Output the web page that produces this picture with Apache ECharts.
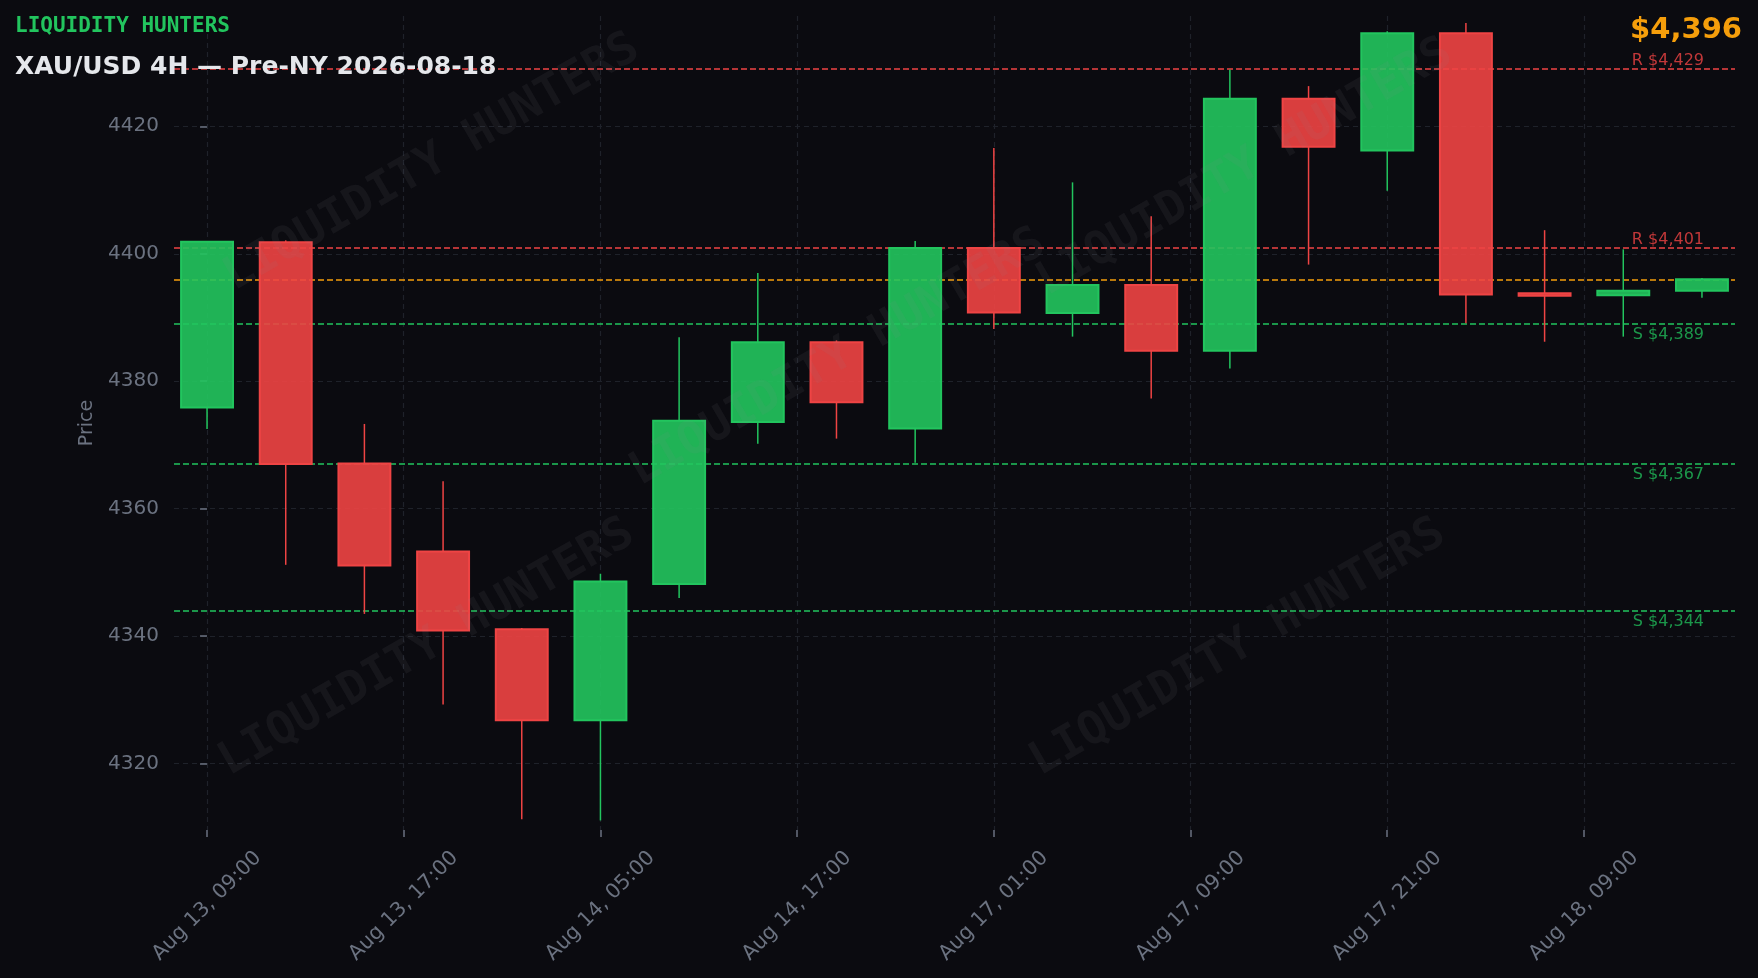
<!DOCTYPE html>
<html>
<head>
<meta charset="utf-8">
<script src="https://cdn.jsdelivr.net/npm/echarts@6/dist/echarts.min.js"></script>
<style>
  html, body { margin: 0; padding: 0; background: #0b0b10; }
  #chart { width: 1758px; height: 978px; }
</style>
</head>
<body>
<div id="chart"></div>
<script>
// ---- data ----
const times = [
  'Aug 13, 09:00','Aug 13, 13:00','Aug 13, 17:00','Aug 13, 21:00',
  'Aug 14, 01:00','Aug 14, 05:00','Aug 14, 09:00','Aug 14, 13:00',
  'Aug 14, 17:00','Aug 14, 21:00','Aug 17, 01:00','Aug 17, 05:00',
  'Aug 17, 09:00','Aug 17, 13:00','Aug 17, 17:00','Aug 17, 21:00',
  'Aug 18, 01:00','Aug 18, 05:00','Aug 18, 09:00','Aug 18, 13:00'
];
const opens  = [4375.9,4401.8,4367.1,4353.3,4341.1,4326.8,4348.2,4373.6,4386.1,4372.6,4400.9,4390.7,4395.1,4384.8,4424.3,4416.2,4434.6,4393.8,4393.5,4394.2];
const highs  = [4402.0,4402.1,4373.3,4364.3,4341.3,4349.8,4386.9,4397.0,4386.4,4402.0,4416.6,4411.2,4405.9,4428.9,4426.3,4434.9,4436.2,4403.7,4400.7,4396.2];
const lows   = [4372.5,4351.2,4343.5,4329.3,4311.3,4311.1,4346.0,4370.2,4371.0,4367.2,4388.2,4387.0,4377.3,4382.0,4398.3,4409.9,4389.1,4386.2,4387.0,4393.1];
const closes = [4401.9,4367.0,4351.1,4340.9,4326.8,4348.6,4373.8,4386.1,4376.7,4400.9,4390.8,4395.1,4384.8,4424.3,4416.8,4434.6,4393.6,4393.4,4394.2,4396.0];

const xTickPositions = [0, 2.5, 5, 7.5, 10, 12.5, 15, 17.5];
const xTickLabels = ['Aug 13, 09:00','Aug 13, 17:00','Aug 14, 05:00','Aug 14, 17:00','Aug 17, 01:00','Aug 17, 09:00','Aug 17, 21:00','Aug 18, 09:00'];
const yTicks = [4320, 4340, 4360, 4380, 4400, 4420];

const levelValues = [4429, 4401, 4389, 4367, 4344];
const levelKinds  = ['R', 'R', 'S', 'S', 'S'];
const lastPrice = 4396;

// ---- styles ----
const GREEN = '#22c55e', RED = '#ef4444', ORANGE = '#f59e0b';
const GREEN_FILL = 'rgba(34,197,94,0.9)', RED_FILL = 'rgba(239,68,68,0.9)';
const GRAY = '#6b7280', GRID = '#1f222a';
const FONT = 'DejaVu Sans';

const candleData = times.map((t, i) => [i, opens[i], closes[i], lows[i], highs[i]]);

const markData = levelValues.map((v, i) => {
  const isR = levelKinds[i] === 'R';
  return {
    yAxis: v,
    lineStyle: { color: isR ? RED : GREEN, type: [6, 3], width: 1.6 },
    label: {
      show: true,
      formatter: levelKinds[i] + ' $' + v.toLocaleString('en-US'),
      position: isR ? 'insideEndTop' : 'insideEndBottom',
      distance: [31, isR ? 0 : 3],
      color: isR ? 'rgba(239,68,68,0.8)' : 'rgba(34,197,94,0.75)',
      fontSize: 16,
      fontFamily: FONT
    }
  };
});
markData.push({
  yAxis: lastPrice,
  lineStyle: { color: ORANGE, type: [6, 3], width: 1.6 },
  label: { show: false }
});

const chart = echarts.init(document.getElementById('chart'));

const watermarks = [[432, 163], [427, 648], [838, 358], [1245, 168], [1238, 648]].map(p => ({
  type: 'text',
  x: p[0], y: p[1],
  rotation: Math.PI / 6,
  z: 100,
  silent: true,
  style: {
    text: 'LIQUIDITY HUNTERS',
    fill: 'rgba(140,140,150,0.085)',
    fontSize: 46,
    fontWeight: 'bold',
    fontFamily: 'DejaVu Sans Mono',
    align: 'center',
    verticalAlign: 'middle'
  }
}));

chart.setOption({
  backgroundColor: '#0b0b10',
  animation: false,
  grid: { left: 174, right: 23, top: 16, bottom: 148 },
  graphic: [
    ...watermarks,
    { type: 'text', x: 15, y: 27, z: 110, style: { text: 'LIQUIDITY HUNTERS', fill: GREEN, fontSize: 21, fontWeight: 'bold', fontFamily: 'DejaVu Sans Mono', align: 'left', verticalAlign: 'middle' } },
    { type: 'text', x: 15, y: 67, z: 110, style: { text: 'XAU/USD 4H \u2014 Pre-NY 2026-08-18', fill: '#e5e7eb', fontSize: 25, fontWeight: 'bold', fontFamily: FONT, align: 'left', verticalAlign: 'middle' } },
    { type: 'text', x: 1742, y: 30, z: 110, style: { text: '$' + lastPrice.toLocaleString('en-US'), fill: ORANGE, fontSize: 29, fontWeight: 'bold', fontFamily: FONT, align: 'right', verticalAlign: 'middle' } }
  ],
  xAxis: {
    type: 'value',
    min: -0.42,
    max: 19.42,
    axisLine: { show: false },
    axisTick: { show: true, customValues: xTickPositions, length: 7, lineStyle: { color: GRAY, width: 1.5 } },
    axisLabel: {
      customValues: xTickPositions,
      formatter: v => {
        const k = xTickPositions.indexOf(v);
        return k >= 0 ? xTickLabels[k] : '';
      },
      rotate: 45,
      align: 'center',
      verticalAlign: 'middle',
      margin: 76,
      color: GRAY,
      fontSize: 20.5,
      fontFamily: FONT
    },
    splitLine: { show: true, lineStyle: { color: GRID, type: [5, 4], width: 1.2 } }
  },
  yAxis: {
    type: 'value',
    min: 4309.6,
    max: 4437.3,
    name: 'Price',
    nameLocation: 'middle',
    nameGap: 77,
    nameRotate: 90,
    nameTextStyle: { color: GRAY, fontSize: 19, fontFamily: FONT },
    axisLine: { show: false },
    axisTick: { show: true, customValues: yTicks, length: 7, lineStyle: { color: GRAY, width: 1.5 } },
    axisLabel: { customValues: yTicks, formatter: v => String(v), color: GRAY, fontSize: 20, fontFamily: FONT, margin: 15 },
    splitLine: { show: true, lineStyle: { color: GRID, type: [5, 4], width: 1.2 } }
  },
  series: [{
    type: 'custom',
    data: candleData,
    encode: { x: 0, y: [1, 2, 3, 4] },
    clip: true,
    renderItem: function (params, api) {
      const x = api.value(0), o = api.value(1), c = api.value(2), l = api.value(3), h = api.value(4);
      const pO = api.coord([x, o]), pC = api.coord([x, c]);
      const pL = api.coord([x, l]), pH = api.coord([x, h]);
      const w = api.size([0.66, 0])[0];
      const up = c >= o;
      const stroke = up ? GREEN : RED;
      const fill = up ? GREEN_FILL : RED_FILL;
      const top = Math.min(pO[1], pC[1]);
      const bot = Math.max(pO[1], pC[1]);
      return {
        type: 'group',
        children: [
          { type: 'line', shape: { x1: pH[0], y1: pH[1], x2: pH[0], y2: top }, style: { stroke: stroke, lineWidth: 1.5 } },
          { type: 'line', shape: { x1: pL[0], y1: bot, x2: pL[0], y2: pL[1] }, style: { stroke: stroke, lineWidth: 1.5 } },
          { type: 'rect', shape: { x: pO[0] - w / 2, y: top, width: w, height: Math.max(bot - top, 1) }, style: { fill: fill, stroke: stroke, lineWidth: 2 } }
        ]
      };
    },
    markLine: {
      silent: true,
      symbol: 'none',
      animation: false,
      data: markData
    },
    z: 5
  }]
});
</script>
</body>
</html>
